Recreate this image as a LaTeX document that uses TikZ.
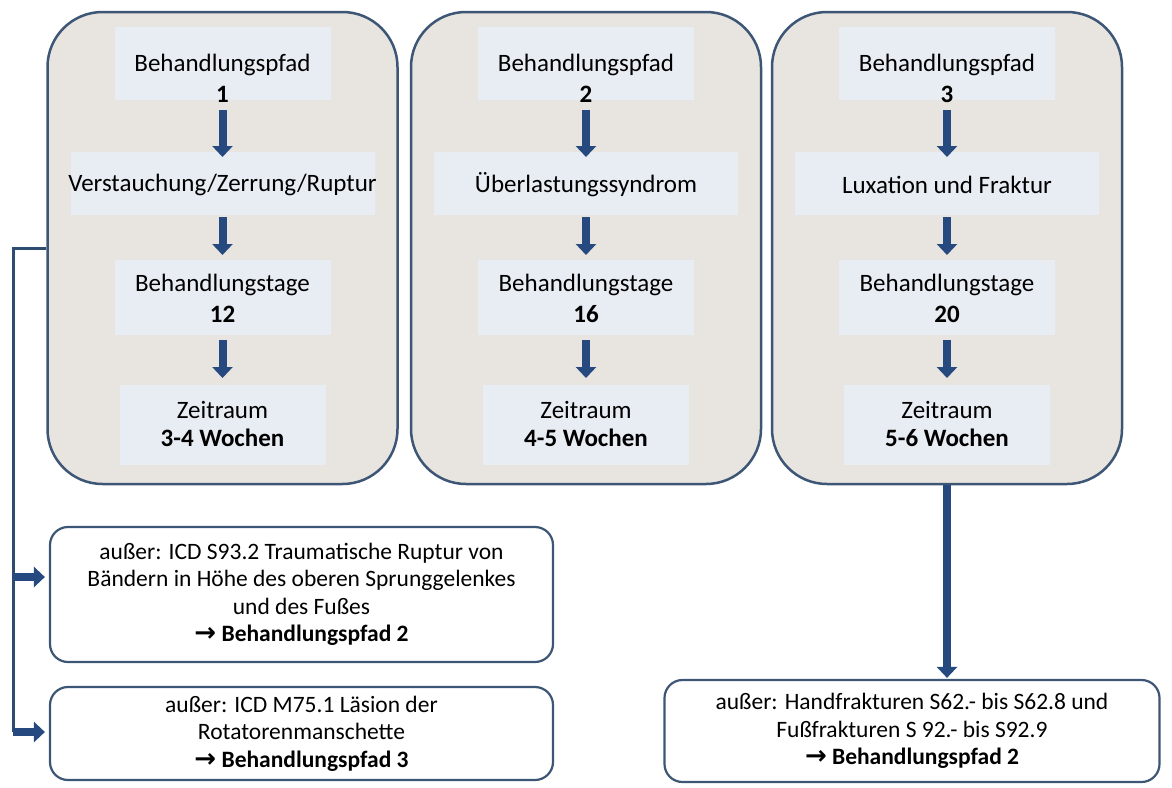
\documentclass[tikz,border=0pt]{standalone}
\usepackage{fontspec}
\setmainfont{Carlito}
\newfontfamily\symf{DejaVu Sans}
\usetikzlibrary{arrows.meta}
\definecolor{frame}{HTML}{3D5675}
\definecolor{panel}{HTML}{E8E4DF}
\definecolor{innerc}{HTML}{E8ECF3}
\definecolor{arr}{HTML}{264A80}
\definecolor{connc}{HTML}{2E4B70}
\newcommand{\rarr}{{\symf\bfseries\fontsize{26}{27.5}\selectfont →}}
\begin{document}
\begin{tikzpicture}[x=1pt,y=-1pt,
  panelbox/.style={draw=frame, line width=2.5pt, fill=panel, rounded corners=55pt, minimum width=350pt, minimum height=472pt, inner sep=0pt},
  coltext/.style={align=center, inner sep=0pt, font=\fontsize{25}{31}\selectfont},
  excbox/.style={draw=frame, line width=2.2pt, fill=white, rounded corners=18pt, align=center, inner sep=0pt, font=\fontsize{23.5}{27.5}\selectfont},
  blk/.style={draw=arr, line width=8pt, -{Triangle[width=20pt,length=11pt]}},
  conn/.style={draw=connc, line width=3pt}]
\useasboundingbox (0,0) rectangle (1172,787);
\fill[white] (0,0) rectangle (1172,787);

% panels
\node[panelbox] (b1) at (222.5,248) {};
\node[panelbox] (b2) at (586,248) {};
\node[panelbox] (b3) at (947,248) {};

% soft inner rectangles
\foreach \cx in {222.5,586,947}{
  \fill[innerc] (\cx-108,27) rectangle (\cx+108,100);
  \fill[innerc] (\cx-152,152) rectangle (\cx+152,215);
  \fill[innerc] (\cx-108,260) rectangle (\cx+108,335);
  \fill[innerc] (\cx-103,385) rectangle (\cx+103,465);
}

% column 1
\node[coltext] (p1) at (222.5,78) {Behandlungspfad\\\textbf{1}};
\node[coltext] (d1) at (222.5,185) {Verstauchung/Zerrung/Ruptur};
\node[coltext] (t1) at (222.5,298) {Behandlungstage\\\textbf{12}};
\node[coltext, font=\fontsize{25}{28}\selectfont] (z1) at (222.5,424) {Zeitraum\\\textbf{3-4 Wochen}};
% column 2
\node[coltext] (p2) at (586,78) {Behandlungspfad\\\textbf{2}};
\node[coltext] (d2) at (586,185) {Überlastungssyndrom};
\node[coltext] (t2) at (586,298) {Behandlungstage\\\textbf{16}};
\node[coltext, font=\fontsize{25}{28}\selectfont] (z2) at (586,424) {Zeitraum\\\textbf{4-5 Wochen}};
% column 3
\node[coltext] (p3) at (947,78) {Behandlungspfad\\\textbf{3}};
\node[coltext] (d3) at (947,185) {Luxation und Fraktur};
\node[coltext] (t3) at (947,298) {Behandlungstage\\\textbf{20}};
\node[coltext, font=\fontsize{25}{28}\selectfont] (z3) at (947,424) {Zeitraum\\\textbf{5-6 Wochen}};

% vertical arrows inside panels
\foreach \i in {1,2,3}{
  \draw[blk, shorten <=32pt, shorten >=28pt] (p\i.center) -- (d\i.center);
  \draw[blk, shorten <=32pt, shorten >=43pt] (d\i.center) -- (t\i.center);
  \draw[blk, shorten <=42pt, shorten >=46pt] (t\i.center) -- (z\i.center);
}

% exception boxes
\node[excbox, minimum width=503pt, minimum height=135pt] (e1) at (301.5,594.5)
  {außer: ICD S93.2 Traumatische Ruptur von\\Bändern in Höhe des oberen Sprunggelenkes\\und des Fußes\\\rarr\ \textbf{Behandlungspfad 2}};
\node[excbox, minimum width=503pt, minimum height=93pt] (e2) at (301.5,733.5)
  {außer: ICD M75.1 Läsion der\\Rotatorenmanschette\\\rarr\ \textbf{Behandlungspfad 3}};
\node[excbox, minimum width=495pt, minimum height=102pt] (e3) at (912,731)
  {außer: Handfrakturen S62.- bis S62.8 und\\Fußfrakturen S 92.- bis S92.9\\\rarr\ \textbf{Behandlungspfad 2}};

% left connector
\coordinate (k1) at (13,577);
\coordinate (k2) at (13,732);
\draw[conn] (b1.west) -| (k2);
\draw[blk, shorten >=4pt] (k1) -- (k1 -| e1.west);
\draw[blk, shorten >=4pt] (k2) -- (k2 -| e2.west);

% panel 3 to exception 3
\draw[blk, shorten >=1pt] (b3.south) -- (b3.south |- e3.north);
\end{tikzpicture}
\end{document}
